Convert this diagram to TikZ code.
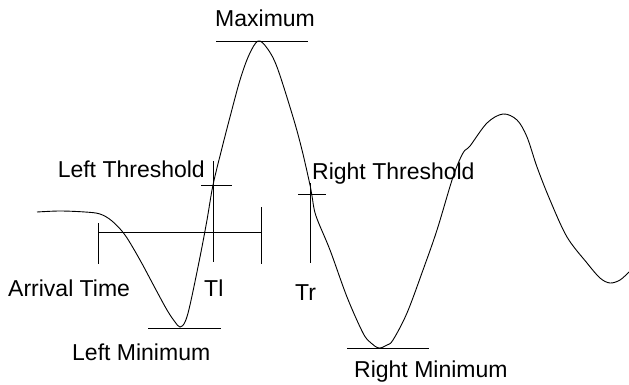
\documentclass[tikz,border=0pt]{standalone}
\usepackage{fontspec}
\setmainfont{Liberation Sans}
\begin{document}
\begin{tikzpicture}[x=1pt,y=-1pt,
  lbl/.style={inner sep=0pt,font=\fontsize{23}{27}\selectfont},
  mark line/.style={line width=0.9pt},
  wave/.style={line width=0.9pt}]
\useasboundingbox (0,0) rectangle (629,385);
% waveform
\draw[wave] plot[smooth,tension=0.55] coordinates {
(37,212) (60,211) (85,212) (100,214) (112,221) (125,235) (140,260) (155,288)
(167,310) (175,322) (180,327) (185,322) (190,305) (200,257) (207,220) (213,185)
(222,148) (230,117) (240,80) (249,55) (258,41) (267,48) (277,67) (293,117)
(302,150) (310,185) (312,196) (316,216) (330,250) (347,297) (363,333) (371,343)
(379,348) (387,345) (393,340) (407,313) (423,270) (437,230) (453,177) (463,153)
(470,146) (487,123) (503,114) (517,120) (527,137) (537,167) (550,200) (567,237)
(587,263) (600,278) (610,283) (620,280) (629,272)};
% coordinates
\coordinate (maxL) at (216,41);  \coordinate (maxR) at (308,41);
\coordinate (ltL) at (201,185);  \coordinate (ltR) at (232,185);
\coordinate (ltT) at (213,161);  \coordinate (ltB) at (213,262);
\coordinate (rtL) at (298,194);  \coordinate (rtR) at (326,194);
\coordinate (rtT) at (310,183);  \coordinate (rtB) at (310,263);
\coordinate (atT) at (98,223);   \coordinate (atB) at (98,264);
\coordinate (atM) at (98,232);   \coordinate (enM) at (261,232);
\coordinate (enT) at (261,207);  \coordinate (enB) at (261,264);
\coordinate (lmL) at (148,328);  \coordinate (lmR) at (221,328);
\coordinate (rmL) at (347,348);  \coordinate (rmR) at (429,348);
% marker lines
\draw[mark line] (maxL) -- (maxR);
\draw[mark line] (ltL) -- (ltR);
\draw[mark line] (ltT) -- (ltB);
\draw[mark line] (rtL) -- (rtR);
\draw[mark line] (rtT) -- (rtB);
\draw[mark line] (atT) -- (atB);
\draw[mark line] (atM) -- (enM);
\draw[mark line] (enT) -- (enB);
\draw[mark line] (lmL) -- (lmR);
\draw[mark line] (rmL) -- (rmR);
% labels
\node[lbl,anchor=base west] (tmax) at (215,27) {Maximum};
\node[lbl,anchor=base east] (tlt) at (205,177) {Left Threshold};
\node[lbl,anchor=base west] (trt) at (312,179) {Right Threshold};
\node[lbl,anchor=base west] (tat) at (8,296) {Arrival Time};
\node[lbl,anchor=base west] (ttl) at (204,296) {Tl};
\node[lbl,anchor=base west] (ttr) at (295,300) {Tr};
\node[lbl,anchor=base west] (tlm) at (72,360) {Left Minimum};
\node[lbl,anchor=base west] (trm) at (354,377) {Right Minimum};
\end{tikzpicture}
\end{document}
